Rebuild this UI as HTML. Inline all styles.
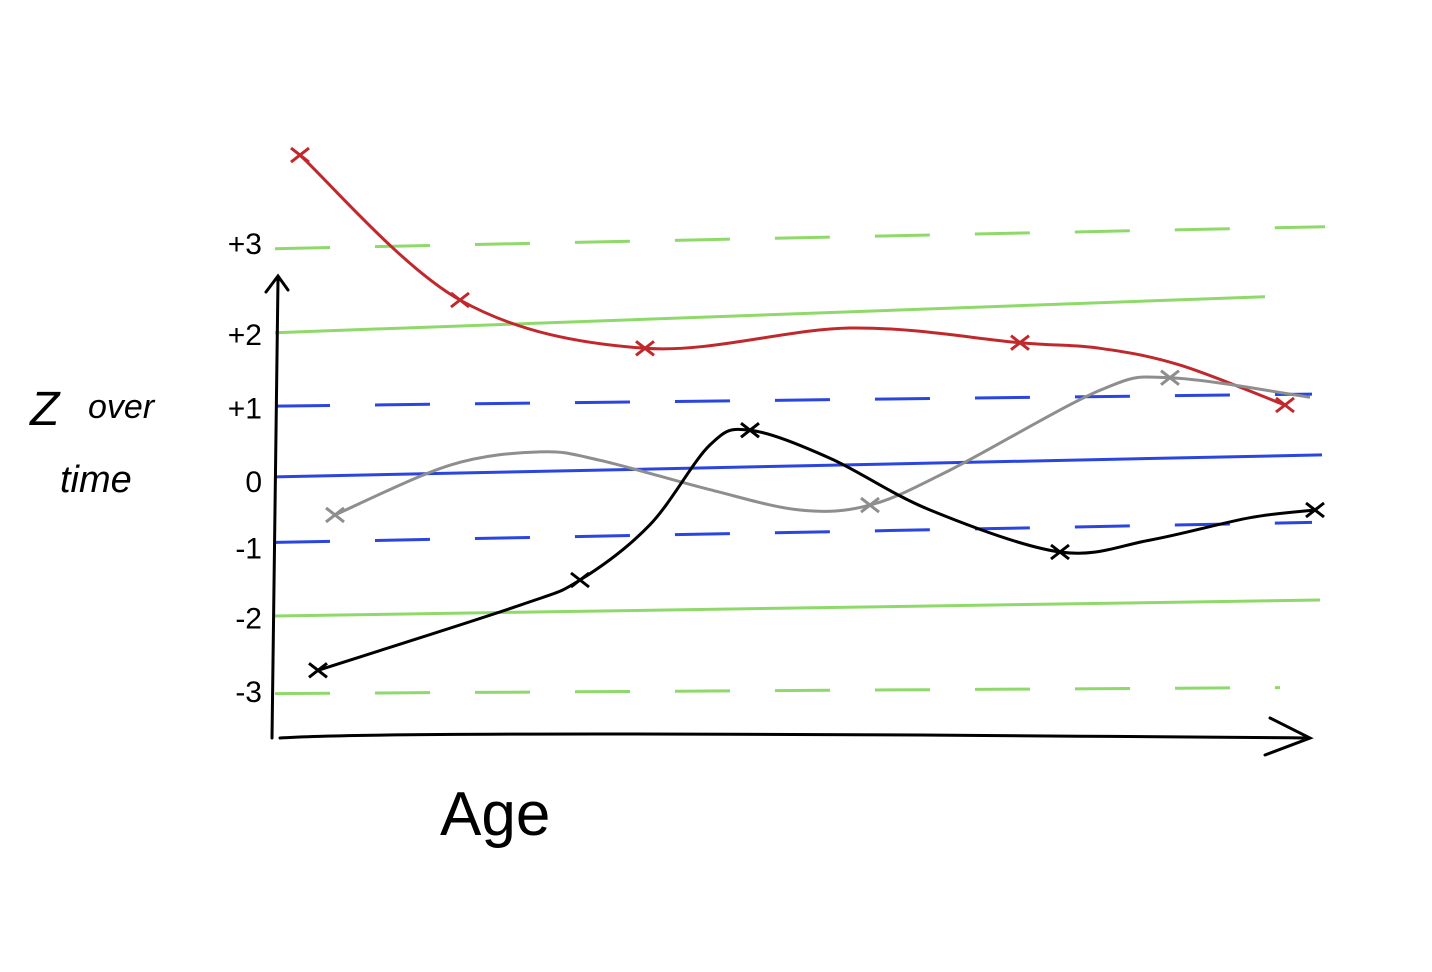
<!DOCTYPE html>
<html><head><meta charset="utf-8"><style>
html,body{margin:0;padding:0;background:#fff;}
svg{display:block;}
text{font-family:"Liberation Sans",sans-serif;fill:#000;}
</style></head><body>
<svg id="chart" width="1432" height="972" viewBox="0 0 1432 972" xmlns="http://www.w3.org/2000/svg">
<g id="refs"></g>
<g id="axes">
<path d="M272 738 L278 280 M266 292 L278 276 L288 290" stroke="#000" stroke-width="3" fill="none" stroke-linecap="round"/>
<path d="M280 738 Q400 730 1308 738 M1270 718 L1310 738 L1265 755" stroke="#000" stroke-width="3" fill="none" stroke-linecap="round"/>
</g>
<g id="ticks"></g>
<text x="30" y="425" font-size="48" font-style="italic">Z</text>
<text x="88" y="418" font-size="34" font-style="italic">over</text>
<text x="60" y="492" font-size="38" font-style="italic">time</text>
<text x="440" y="835" font-size="62">Age</text>
<g id="series"></g>
</svg>
<script>
const refLevels=[3.39,2.29,1.07,0.13,-0.82,-1.9,-3.08];
const refColors=["#8fd96a","#8fd96a","#2b45e0","#2b45e0","#2b45e0","#8fd96a","#8fd96a"];
const refDashed=[true,false,true,false,true,false,true];
const refTilt=[11,18,6,11,10,8,3];
const refEnd=[1325,1265,1312,1322,1312,1320,1280];
const tickValues=[3,2,1,0,-1,-2,-3];
const tickLabels=["+3","+2","+1","0","-1","-2","-3"];
const tickPos=[3.3,2.0,0.95,-0.1,-1.05,-2.05,-3.1];
const redAges=[0.1,1.7,3.55,5.6,7.3,8.1,8.9,9.95];
const redZ=[4.57,2.5,1.81,2.1,1.89,1.81,1.57,1.0];
const blackAges=[0.28,2.3,2.9,3.6,4.2,4.6,5.4,6.4,7.7,8.6,9.6,10.25];
const blackZ=[-2.79,-1.86,-1.5,-0.71,0.43,0.64,0.24,-0.5,-1.1,-0.93,-0.61,-0.5];
const grayAges=[0.45,1.6,2.5,3.1,4.2,5.1,5.8,6.6,8.1,8.8,10.2];
const grayZ=[-0.57,0.14,0.33,0.21,-0.21,-0.5,-0.43,0.07,1.21,1.39,1.11];
const redMarks=[0,1,2,4,7];
const blackMarks=[0,2,5,8,11];
const grayMarks=[0,6,9];
const NS="http://www.w3.org/2000/svg";
function xs(a){return 290+a*100;}
function ys(z){return 475-z*70;}
const refG=document.getElementById('refs');
refLevels.forEach((v,i)=>{
  const l=document.createElementNS(NS,'line');
  l.setAttribute('x1',275);l.setAttribute('x2',refEnd[i]);
  l.setAttribute('y1',ys(v)+refTilt[i]);l.setAttribute('y2',ys(v)-refTilt[i]);
  l.setAttribute('stroke',refColors[i]);l.setAttribute('stroke-width',3);
  if(refDashed[i])l.setAttribute('stroke-dasharray','55 45');
  
  
  refG.appendChild(l);
});
const tG=document.getElementById('ticks');
tickValues.forEach((v,i)=>{
  const t=document.createElementNS(NS,'text');
  t.setAttribute('x',262);t.setAttribute('y',ys(tickPos[i])+10);
  t.setAttribute('text-anchor','end');t.setAttribute('font-size',30);
  t.textContent=tickLabels[i];
  
  
  tG.appendChild(t);
});
function path(ages,z){
  const p=ages.map((a,i)=>[xs(a),ys(z[i])]);
  let d='M'+p[0][0]+' '+p[0][1];
  for(let i=0;i<p.length-1;i++){
    const p0=p[i-1]||p[i],p1=p[i],p2=p[i+1],p3=p[i+2]||p2;
    const c1=[p1[0]+(p2[0]-p0[0])/6,p1[1]+(p2[1]-p0[1])/6];
    const c2=[p2[0]-(p3[0]-p1[0])/6,p2[1]-(p3[1]-p1[1])/6];
    d+=' C'+c1+' '+c2+' '+p2;
  }
  return d;
}
const sG=document.getElementById('series');
function drawSeries(name,ages,z,marks,color){
  const pth=document.createElementNS(NS,'path');
  pth.setAttribute('d',path(ages,z));pth.setAttribute('fill','none');
  pth.setAttribute('stroke',color);pth.setAttribute('stroke-width',3);
  
  
  sG.appendChild(pth);
  marks.forEach(i=>{
    const x=xs(ages[i]),y=ys(z[i]);
    const m=document.createElementNS(NS,'path');
    m.setAttribute('d',`M${x-9} ${y-7} L${x+9} ${y+7} M${x-9} ${y+7} L${x+9} ${y-7}`);
    m.setAttribute('stroke',color);m.setAttribute('stroke-width',3);
    
    
    sG.appendChild(m);
  });
}
drawSeries('red-series',redAges,redZ,redMarks,'#c0282c');
drawSeries('gray-series',grayAges,grayZ,grayMarks,'#8e8e8e');
drawSeries('black-series',blackAges,blackZ,blackMarks,'#000');
</script>
</body></html>
